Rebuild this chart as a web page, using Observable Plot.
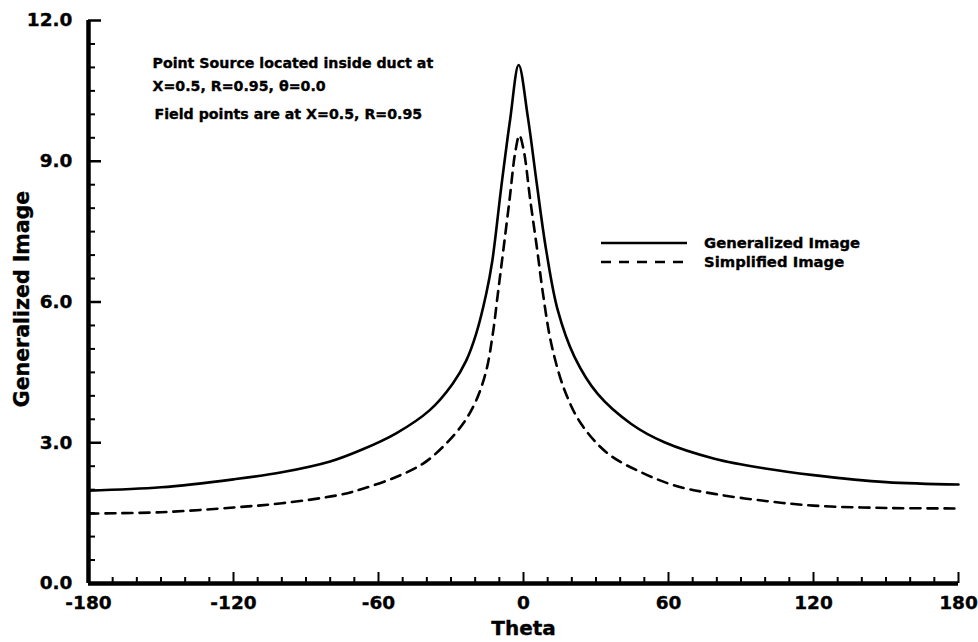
<!DOCTYPE html>
<html><head><meta charset="utf-8">
<script src="https://cdn.jsdelivr.net/npm/d3@7"></script>
<script src="https://cdn.jsdelivr.net/npm/@observablehq/plot@0.6"></script>
<style>
body{margin:0;background:#fff;}
#chart{position:relative;width:978px;height:642px;}
#legend{position:absolute;left:0;top:0;}
</style></head><body><div id="chart"></div>
<script>
// ---- data ----
const genTheta = [-180,-150,-120,-100,-80,-66.5,-52.7,-38.9,-29.3,-23.7,-19.6,-15.4,-12.9,-9.2,-5.5,-2,1.8,5.5,9.4,14.2,21.1,30.7,44.6,58.3,79,100,120,150,180];
const genValue = [1.98,2.05,2.22,2.37,2.60,2.86,3.20,3.69,4.26,4.75,5.32,6.18,6.88,8.45,9.9,11.05,9.94,8.52,7.1,5.82,4.83,4.04,3.40,3.01,2.66,2.45,2.31,2.16,2.11];
const simTheta = [-180,-150,-120,-100,-76,-66.5,-52.7,-41.7,-33.4,-25.1,-19.6,-15.4,-12.7,-10.6,-8.6,-5.8,-3.3,-1.7,0.1,2.8,5.7,8,11.5,17,23.9,34.9,48.7,62.5,79,100,120,150,180];
const simValue = [1.49,1.52,1.62,1.71,1.89,2.02,2.27,2.55,2.91,3.40,3.90,4.54,5.32,6.18,7.0,8.17,9.23,9.55,9.23,8.17,7.1,6.2,5.11,4.12,3.40,2.77,2.37,2.09,1.91,1.76,1.66,1.61,1.60];
const seriesNames = ["Generalized Image","Simplified Image"];
const xMajor = [-180,-120,-60,0,60,120,180];
const xMinor = [-170,-160,-150,-140,-130,-110,-100,-90,-80,-70,-50,-40,-30,-20,-10,10,20,30,40,50,70,80,90,100,110,130,140,150,160,170];
const yMajor = [0,3,6,9,12];
const yMinor = [0.5,1,1.5,2,2.5,3.5,4,4.5,5,5.5,6.5,7,7.5,8,8.5,9.5,10,10.5,11,11.5];
const xTitle = "Theta";
const yTitle = "Generalized Image";
const notes = ["Point Source located inside duct at","X=0.5, R=0.95, θ=0.0","Field points are at X=0.5, R=0.95"];

// ---- build ----
const W = 978, H = 642, mL = 88, mR = 20, mT = 20, mB = 59;
const fw = W - mL - mR, fh = H - mT - mB;
const gen = genTheta.map((t, i) => ({theta: t, value: genValue[i]}));
const sim = simTheta.map((t, i) => ({theta: t, value: simValue[i]}));
const FONT = "DejaVu Sans";
const heavy = {fontWeight: "bold", stroke: "black", strokeWidth: 0.35, fill: "black"};

const chart = Plot.plot({
  width: W, height: H,
  marginLeft: mL, marginRight: mR, marginTop: mT, marginBottom: mB,
  style: {fontFamily: FONT, fontWeight: "bold", background: "white", color: "black", overflow: "visible"},
  x: {domain: [-180, 180], axis: null},
  y: {domain: [0, 12], axis: null},
  marks: [
    Plot.line(gen, {x: "theta", y: "value", stroke: "black", strokeWidth: 2.6, curve: "catmull-rom"}),
    Plot.line(sim, {x: "theta", y: "value", stroke: "black", strokeWidth: 2.6, strokeDasharray: "10,7", curve: "catmull-rom"}),
    Plot.tickY(yMajor, {y: d => d, insetRight: fw - 13, strokeWidth: 2.5}),
    Plot.tickY(yMinor, {y: d => d, insetRight: fw - 7, strokeWidth: 2}),
    Plot.tickX(xMajor, {x: d => d, insetTop: fh - 11, strokeWidth: 2}),
    Plot.tickX(xMinor, {x: d => d, insetTop: fh - 6, strokeWidth: 2}),
    Plot.ruleX([-180], {strokeWidth: 4.5}),
    Plot.ruleY([0], {strokeWidth: 4.5}),
    Plot.text(xMajor, {x: d => d, text: d => String(d), frameAnchor: "bottom", textAnchor: "middle", lineAnchor: "top", dy: 12, fontSize: 18.5, ...heavy}),
    Plot.text(yMajor, {y: d => d, text: d => d.toFixed(1), frameAnchor: "left", textAnchor: "end", lineAnchor: "middle", dx: -16, fontSize: 18.5, ...heavy}),
    Plot.text([xTitle], {frameAnchor: "bottom", textAnchor: "middle", lineAnchor: "middle", dy: 45, fontSize: 20, ...heavy}),
    Plot.text([yTitle], {frameAnchor: "left", textAnchor: "middle", lineAnchor: "middle", rotate: -90, dx: -66, dy: -3, fontSize: 20.5, ...heavy}),
    Plot.text([notes[0]], {frameAnchor: "top-left", textAnchor: "start", lineAnchor: "middle", dx: 64, dy: 43, fontSize: 14.2, ...heavy}),
    Plot.text([notes[1]], {frameAnchor: "top-left", textAnchor: "start", lineAnchor: "middle", dx: 64, dy: 66, fontSize: 14.2, ...heavy}),
    Plot.text([notes[2]], {frameAnchor: "top-left", textAnchor: "start", lineAnchor: "middle", dx: 66, dy: 94, fontSize: 14.2, ...heavy})
  ]
});
const holder = document.getElementById("chart");
holder.appendChild(chart);

// legend overlay
const ns = "http://www.w3.org/2000/svg";
const lg = document.createElementNS(ns, "svg");
lg.setAttribute("id", "legend");
lg.setAttribute("width", W); lg.setAttribute("height", H);
lg.style.pointerEvents = "none";
const legendY = [243, 262];
seriesNames.forEach((name, i) => {
  const ln = document.createElementNS(ns, "line");
  ln.setAttribute("x1", 601); ln.setAttribute("x2", 687);
  ln.setAttribute("y1", legendY[i]); ln.setAttribute("y2", legendY[i]);
  ln.setAttribute("stroke", "black"); ln.setAttribute("stroke-width", 2.6);
  if (i === 1) ln.setAttribute("stroke-dasharray", "10,8");
  lg.appendChild(ln);
  const tx = document.createElementNS(ns, "text");
  tx.setAttribute("x", 704); tx.setAttribute("y", legendY[i]);
  tx.setAttribute("dy", "0.35em");
  tx.setAttribute("font-family", FONT); tx.setAttribute("font-weight", "bold");
  tx.setAttribute("font-size", 14.8);
  tx.setAttribute("stroke", "black"); tx.setAttribute("stroke-width", 0.35);
  tx.textContent = name;
  lg.appendChild(tx);
});
holder.appendChild(lg);
</script></body></html>
